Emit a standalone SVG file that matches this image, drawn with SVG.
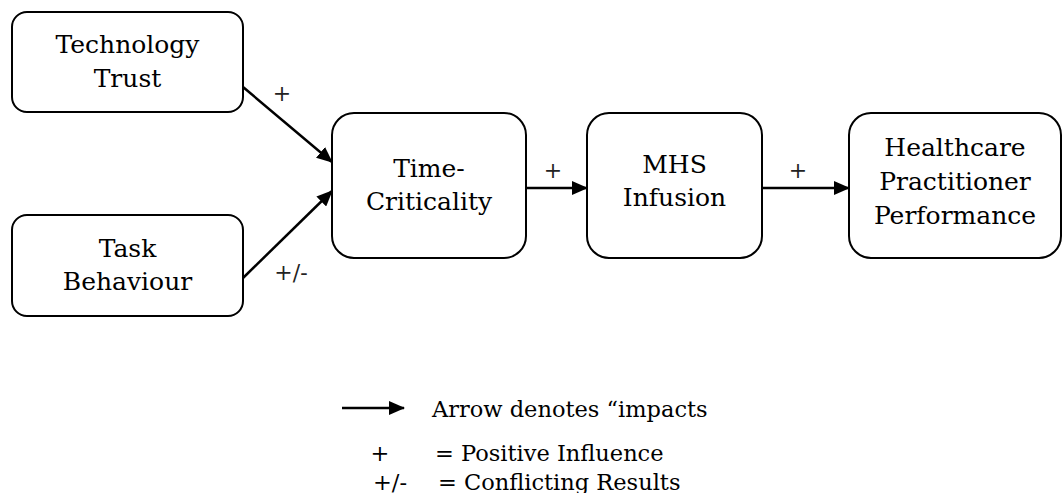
<svg xmlns="http://www.w3.org/2000/svg" width="1064" height="493" viewBox="0 0 1064 493">
<style>
.box{fill:#fff;stroke:#000;stroke-width:2}
.t{font-family:"DejaVu Serif","Liberation Serif",serif;font-size:25px;fill:#000;text-anchor:middle}
.lbl{font-family:"DejaVu Serif","Liberation Serif",serif;font-size:22px;fill:#222;text-anchor:middle}
.leg{font-family:"DejaVu Serif","Liberation Serif",serif;font-size:22.5px;fill:#000}
.edge{stroke:#000;stroke-width:2.5;fill:none}
</style>
<defs>
<marker id="ah" markerUnits="userSpaceOnUse" markerWidth="16" markerHeight="14" refX="15" refY="7" orient="auto">
<path d="M0,0 L16,7 L0,14 Z" fill="#000"/>
</marker>
</defs>
<g id="technology-trust">
<rect class="box" x="12" y="12" width="231" height="100" rx="15"/>
<text class="t" x="127.5" y="53">Technology</text>
<text class="t" x="127.5" y="87">Trust</text>
</g>
<g id="task-behaviour">
<rect class="box" x="12" y="215" width="231" height="101" rx="15"/>
<text class="t" x="127.5" y="257">Task</text>
<text class="t" x="127.5" y="290">Behaviour</text>
</g>
<g id="time-criticality">
<rect class="box" x="332" y="113" width="194" height="145" rx="22"/>
<text class="t" x="429" y="177">Time-</text>
<text class="t" x="429" y="210">Criticality</text>
</g>
<g id="mhs-infusion">
<rect class="box" x="587" y="113" width="175" height="145" rx="22"/>
<text class="t" x="674.5" y="173">MHS</text>
<text class="t" x="674.5" y="206">Infusion</text>
</g>
<g id="healthcare-performance">
<rect class="box" x="849" y="113" width="212" height="145" rx="22"/>
<text class="t" x="955" y="156">Healthcare</text>
<text class="t" x="955" y="190">Practitioner</text>
<text class="t" x="955" y="224">Performance</text>
</g>
<g id="connectors">
<line class="edge" x1="243" y1="87" x2="332" y2="162" marker-end="url(#ah)"/>
<line class="edge" x1="243" y1="278" x2="332" y2="191" marker-end="url(#ah)"/>
<line class="edge" x1="526" y1="188" x2="587" y2="188" marker-end="url(#ah)"/>
<line class="edge" x1="762" y1="188" x2="849" y2="188" marker-end="url(#ah)"/>
<text class="lbl" x="282" y="101">+</text>
<text class="lbl" x="291" y="280">+/-</text>
<text class="lbl" x="553" y="178">+</text>
<text class="lbl" x="798" y="178">+</text>
</g>
<g id="legend">
<line class="edge" x1="342" y1="408" x2="404" y2="408" marker-end="url(#ah)"/>
<text class="leg" x="432" y="417">Arrow denotes “impacts</text>
<text class="leg" x="380" y="461" text-anchor="middle">+</text>
<text class="leg" x="435" y="461">= Positive Influence</text>
<text class="leg" x="373" y="490">+/-</text>
<text class="leg" x="438" y="490">= Conflicting Results</text>
</g>
</svg>
